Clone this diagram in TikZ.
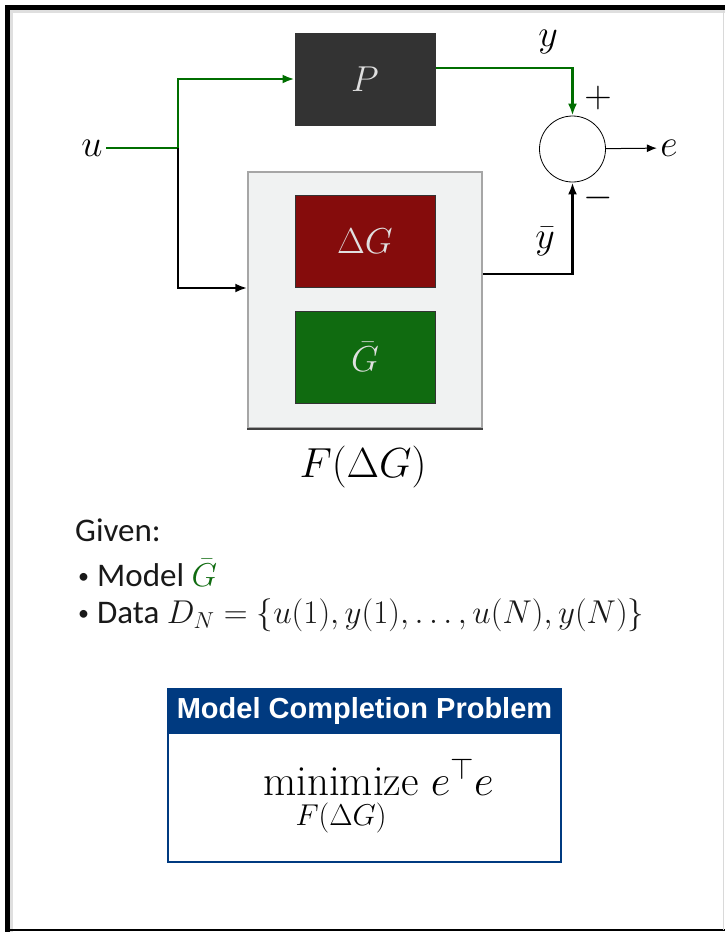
\RequirePackage{fix-cm}
\documentclass[tikz,border=0pt]{standalone}
\usepackage{amsmath,amssymb}
\usepackage{fontspec}
\usepackage{xcolor}
\usepackage{tikz}
\usetikzlibrary{positioning,arrows.meta}
\newfontfamily\bodyfont{Carlito}
\newfontfamily\headfont{Liberation Sans}
\definecolor{plantgray}{RGB}{51,51,51}
\definecolor{deltared}{RGB}{133,12,12}
\definecolor{modelgreen}{RGB}{16,107,16}
\definecolor{sigline}{RGB}{0,110,0}
\definecolor{fboxgray}{RGB}{240,242,242}
\definecolor{probblue}{RGB}{0,58,128}
\newcommand{\smallbullet}{\raisebox{3pt}{\fontsize{22}{22}\selectfont\textbullet}\hspace{8pt}}

\begin{document}
\begin{tikzpicture}[
  x=1pt, y=1pt,
  lbl/.style={font=\fontsize{38}{44}\selectfont},
  blk/.style={draw=black!80, line width=1pt, minimum width=140pt, minimum height=92pt, text=white!88!black, font=\fontsize{36}{42}\selectfont},
  gline/.style={draw=sigline, line width=2.8pt},
  bline/.style={draw=black, line width=2.8pt},
  tip/.style={-{Latex[length=12pt,width=9pt]}},
  txt/.style={anchor=west, inner sep=0pt, font=\bodyfont\fontsize{33}{40}\selectfont, text=black!90},
  node distance=23pt,
]
\useasboundingbox (0,0) rectangle (725,-932);
% frame
\draw[gray!25, line width=3pt] (11.5,-932) -- (11.5,-11.5) -- (725,-11.5);
\draw[line width=5pt] (7.5,-932) -- (7.5,-7.5) -- (725,-7.5);
\draw[line width=2pt] (7.5,-930) -- (725,-930);
\draw[gray!30, line width=1pt] (723,-10) -- (723,-930);

\node[blk, fill=plantgray] (P) at (365,-79) {$P$};
\node[draw=gray!70, line width=1.5pt, fill=fboxgray, minimum width=234pt, minimum height=256pt] (F) at (365,-300) {};
\node[blk, fill=deltared] (dG) at (365,-241) {$\Delta G$};
\node[blk, fill=modelgreen, below=of dG] (Gb) {$\bar{G}$};
\draw[line width=1.5pt, black!75] (F.south west) -- (F.south east);
\node[font=\fontsize{42}{48}\selectfont] (Flab) at (363,-467) {$F(\Delta G)$};

\node[circle, draw, line width=0.8pt, minimum size=66pt, inner sep=0pt] (sum) at (572.5,-149) {};
\node[lbl] (u) at (92,-148) {$u$};
\node[lbl] (y) at (548,-42) {$y$};
\node[lbl] (yb) at (545,-242) {$\bar{y}$};
\node[lbl] (e) at (669,-148) {$e$};
\node[lbl] (plus) at (598,-98) {$+$};
\node[lbl] (minus) at (598,-198) {$-$};

\coordinate (j) at (178,-148);
\draw[gline] (u) -- (j);
\draw[gline, tip] (j) |- (P.west);
\draw[bline, tip] (j) |- ([yshift=12pt]F.west);
\draw[gline, tip] ([yshift=11pt]P.east) -| (sum.north);
\draw[bline, tip] ([yshift=26pt]F.east) -| (sum.south);
\draw[line width=1pt, -{Latex[length=10pt,width=8pt]}] (sum) -- (e);

\node[txt] (given) at (75,-530) {Given:};
\node[txt] (model) at (78,-573) {\smallbullet Model $\color{modelgreen}\bar{G}$};
\node[txt] (data) at (78,-615) {\smallbullet Data $D_N = \{u(1), y(1), \ldots, u(N), y(N)\}$};

\node[draw=probblue, line width=2pt, minimum width=393pt, minimum height=173pt, inner sep=0pt] (prob) at (364.5,-775.5) {};
\node[fill=probblue, minimum width=393pt, minimum height=46pt, anchor=north, text=white, font=\headfont\bfseries\fontsize{29}{34}\selectfont, inner sep=0pt] (probhead) at (prob.north) {Model Completion Problem};
\node[anchor=base, font=\fontsize{43}{50}\selectfont] (obj) at (378.5,-795) {$\underset{F(\Delta G)}{\mathrm{minimize}}\; e^{\top} e$};
\end{tikzpicture}
\end{document}
